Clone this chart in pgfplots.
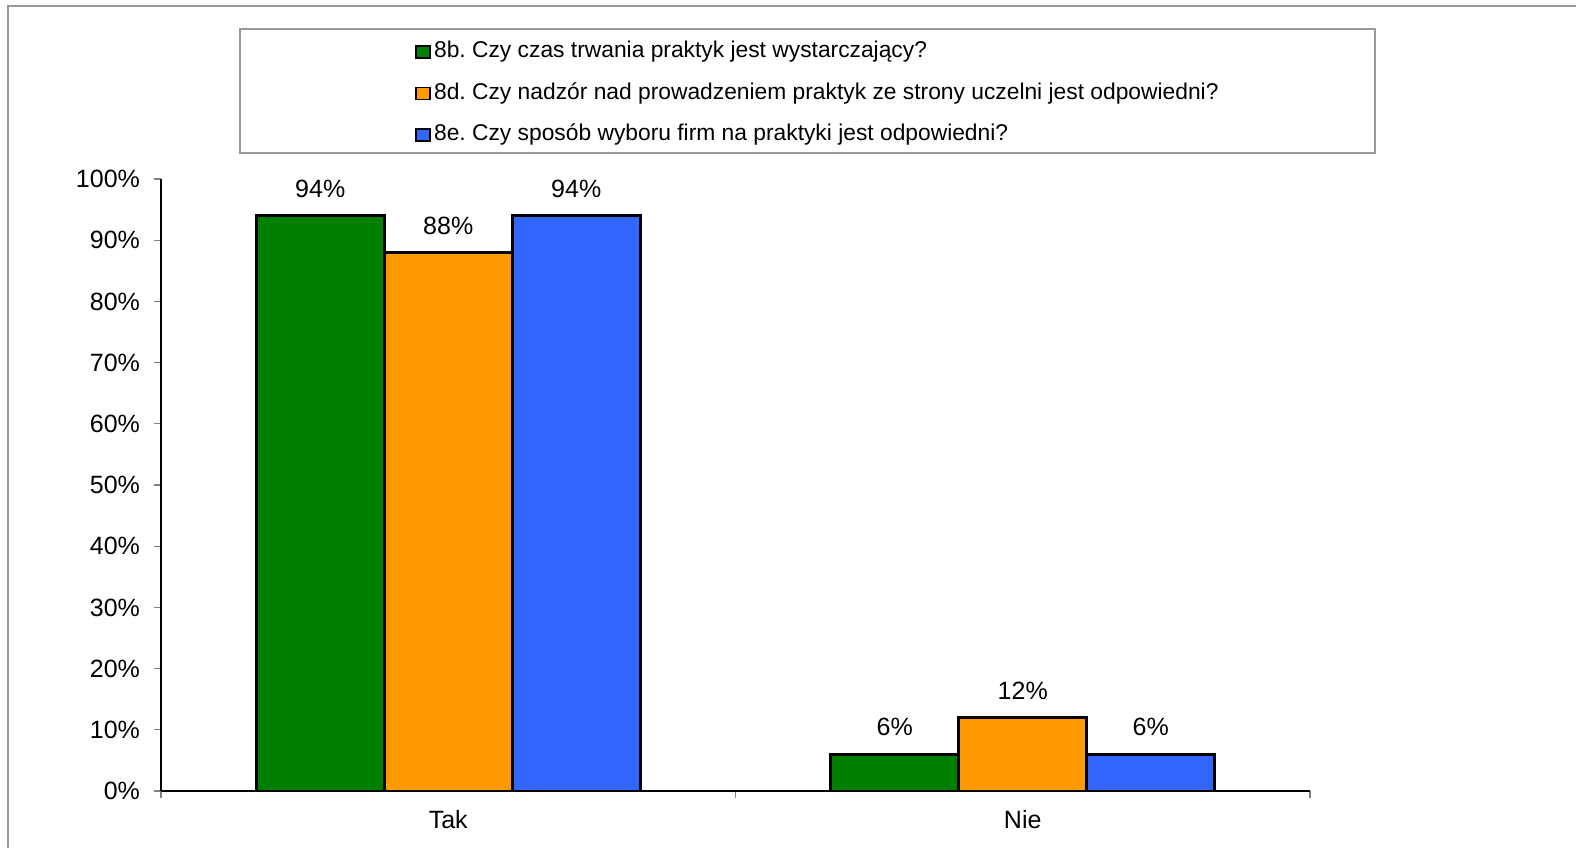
\documentclass[border=0pt]{standalone}
\usepackage{fontspec}
\setmainfont{Liberation Sans}
\usepackage{pgfplots}
\pgfplotsset{compat=1.18}
\definecolor{cgreen}{HTML}{008000}
\definecolor{corange}{HTML}{FF9900}
\definecolor{cblue}{HTML}{3366FF}
\newcommand\fs{\fontsize{12.5pt}{15pt}\selectfont}
\newcommand\fl{\fontsize{11.4pt}{13.5pt}\selectfont}
\frenchspacing
\begin{document}
\begin{tikzpicture}[font=\fs]
\useasboundingbox (0,0) rectangle (788pt,424pt);
\draw[gray!80, line width=0.6pt] (4pt,0pt) -- (4pt,421pt) -- (788pt,421pt);
\draw[gray!80, line width=0.6pt] (120pt,347.5pt) rectangle (687.5pt,409.5pt);
\begin{axis}[
 at={(80.5pt,28.5pt)}, anchor=south west,
 scale only axis, width=574.5pt, height=306pt,
 ybar=0pt, bar width=64pt,
 xmin=-0.5, xmax=1.5, ymin=0, ymax=100,
 axis x line=bottom, axis y line=left,
 axis line style={-, line width=0.6pt, black},
 xtick={-0.5,0.5,1.5}, xticklabels={},
 extra x ticks={0,1}, extra x tick labels={Tak,Nie},
 extra x tick style={major tick length=0pt, tick label style={yshift=-6pt}},
 ytick={0,10,...,100},
 yticklabel={\pgfmathprintnumber{\tick}\%},
 y tick label style={xshift=-3.5pt},
 tick align=outside, major tick length=3.5pt,
 tick style={gray, line width=0.6pt},
 /pgf/number format/assume math mode=true,
 tick label style={font=\fs},
 nodes near coords={\pgfmathprintnumber{\pgfplotspointmeta}\%},
 every node near coord/.append style={font=\fs, yshift=5pt, black},
 legend style={draw=none, fill=none, at={(0.221,1.1397)}, anchor=west,
   inner sep=0pt, row sep=10.3pt, font=\fl,
   nodes={inner sep=0pt, text height=8pt, text depth=2.5pt},
   /tikz/every odd column/.append style={column sep=1.5pt}},
 legend cell align=left,
 legend image code/.code={\draw[#1,draw=black,line width=0.9pt] (0pt,-3pt) rectangle (7pt,3pt);},
]
\addplot[fill=cgreen, draw=black, line width=1.5pt] coordinates {(0,94) (1,6)};
\addplot[fill=corange, draw=black, line width=1.5pt] coordinates {(0,88) (1,12)};
\addplot[fill=cblue, draw=black, line width=1.5pt] coordinates {(0,94) (1,6)};
\legend{8b. Czy czas trwania praktyk jest wystarczający?,
8d. Czy nadzór nad prowadzeniem praktyk ze strony uczelni jest odpowiedni?,
8e. Czy sposób wyboru firm na praktyki jest odpowiedni?}
\end{axis}
\end{tikzpicture}
\end{document}
